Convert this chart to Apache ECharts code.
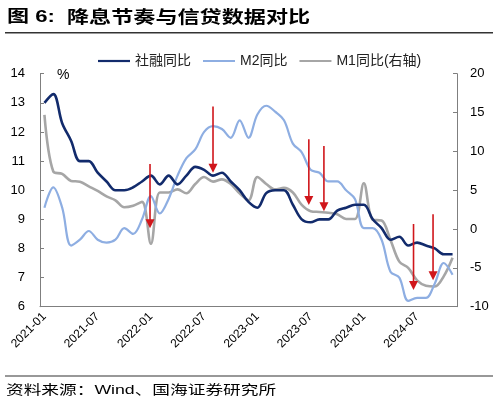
<!DOCTYPE html>
<html>
<head>
<meta charset="utf-8">
<script src="https://cdn.jsdelivr.net/npm/echarts@6/dist/echarts.min.js"></script>
<style>
html,body{margin:0;padding:0;background:#fff;}
#chart{width:498px;height:407px;}
</style>
</head>
<body>
<div id="chart"></div>
<script>
const months = [
  '2021-01','2021-02','2021-03','2021-04','2021-05','2021-06','2021-07','2021-08','2021-09','2021-10','2021-11','2021-12',
  '2022-01','2022-02','2022-03','2022-04','2022-05','2022-06','2022-07','2022-08','2022-09','2022-10','2022-11','2022-12',
  '2023-01','2023-02','2023-03','2023-04','2023-05','2023-06','2023-07','2023-08','2023-09','2023-10','2023-11','2023-12',
  '2024-01','2024-02','2024-03','2024-04','2024-05','2024-06','2024-07','2024-08','2024-09','2024-10','2024-11'
];
// 社融同比 (%)
const tsf = [
  13.0, 13.3, 12.3, 11.7, 11.0, 11.0, 10.6, 10.3, 10.0, 10.0, 10.1, 10.3,
  10.5, 10.2, 10.5, 10.2, 10.5, 10.8, 10.7, 10.5, 10.6, 10.3, 10.0, 9.6,
  9.4, 9.9, 10.0, 10.0, 9.5, 9.0, 8.9, 9.0, 9.0, 9.3, 9.4, 9.5,
  9.5, 9.0, 8.7, 8.3, 8.4, 8.1, 8.2, 8.1, 8.0, 7.8, 7.8
];
// M2同比 (%)
const m2 = [
  9.4, 10.1, 9.4, 8.1, 8.3, 8.6, 8.3, 8.2, 8.3, 8.7, 8.5, 9.0,
  9.8, 9.2, 9.7, 10.5, 11.1, 11.4, 12.0, 12.2, 12.1, 11.8, 12.4, 11.8,
  12.6, 12.9, 12.7, 12.4, 11.6, 11.3, 10.7, 10.6, 10.3, 10.3, 10.0, 9.7,
  8.7, 8.7, 8.3, 7.2, 7.0, 6.2, 6.3, 6.3, 6.8, 7.5, 7.1
];
// M1同比 (%, 右轴)
const m1 = [
  14.7, 7.4, 7.1, 6.2, 6.1, 5.5, 4.9, 4.2, 3.7, 2.8, 3.0, 3.5,
  -1.9, 4.7, 4.7, 5.1, 4.6, 5.8, 6.7, 6.1, 6.4, 5.8, 4.6, 3.7,
  6.7, 5.8, 5.1, 5.3, 4.7, 3.1, 2.3, 2.2, 2.1, 1.9, 1.3, 1.3,
  5.9, 1.2, 1.1, -1.4, -4.2, -5.0, -6.6, -7.3, -7.4, -6.1, -3.7
];
// 降息标记箭头: 位置(月序), 起点与终点(左轴数值)
const arrowPos = [12.4, 19.5, 30.3, 32.0, 42.1, 44.3];
const arrowTop = [10.9, 12.87, 11.75, 11.52, 8.84, 9.17];
const arrowTip = [8.69, 10.6, 9.49, 9.28, 6.57, 6.91];

const seriesNames = ['社融同比', 'M2同比', 'M1同比(右轴)'];
const leftTicks = {min: 6, max: 14, interval: 1};
const rightTicks = {min: -10, max: 20, interval: 5};

const FONT = "'Liberation Sans', 'Noto Sans CJK SC', sans-serif";
const AXIS_COLOR = '#7f7f7f';
const RED = '#d0161b';

const chart = echarts.init(document.getElementById('chart'), null, {renderer: 'canvas'});

const option = {
  animation: false,
  backgroundColor: '#fff',
  textStyle: {fontFamily: FONT},
  grid: {left: 40, right: 41, top: 73.7, bottom: 100.3, containLabel: false},
  legend: {
    data: seriesNames,
    left: 93, top: 49,
    icon: 'rect', itemWidth: 32, itemHeight: 2.2, itemGap: 12,
    textStyle: {fontSize: 14, color: '#222', fontFamily: FONT}
  },
  graphic: [
    {type: 'text', x: 7, y: 17, scaleX: 1.3, style: {text: '图 6:', font: "bold 17px 'Liberation Sans', 'Noto Sans CJK SC'", fill: '#000', textVerticalAlign: 'middle', verticalAlign: 'middle'}},
    {type: 'text', x: 67, y: 17, scaleX: 1.3, style: {text: '降息节奏与信贷数据对比', font: "bold 17px 'Noto Sans CJK SC'", fill: '#000', textVerticalAlign: 'middle', verticalAlign: 'middle'}},
    {type: 'line', shape: {x1: 5, y1: 32.7, x2: 493, y2: 32.7}, style: {stroke: '#333', lineWidth: 1.5}},
    {type: 'text', x: 57, y: 75, style: {text: '%', font: "14px 'Liberation Sans'", fill: '#000', textVerticalAlign: 'middle', verticalAlign: 'middle'}},
    {type: 'line', shape: {x1: 5, y1: 376, x2: 493, y2: 376}, style: {stroke: '#333', lineWidth: 1.2}},
    {type: 'text', x: 6, y: 390, scaleX: 1.36, style: {text: '资料来源：Wind、国海证券研究所', font: "13px 'Liberation Sans', 'Noto Sans CJK SC'", fill: '#000', textVerticalAlign: 'middle', verticalAlign: 'middle'}}
  ],
  xAxis: [
    {
      type: 'category', data: months, boundaryGap: true, position: 'bottom',
      axisLine: {onZero: false, lineStyle: {color: AXIS_COLOR, width: 1}},
      axisTick: {inside: true, interval: 5, length: 4, lineStyle: {color: AXIS_COLOR}},
      axisLabel: {interval: 5, rotate: 45, fontSize: 12, color: '#000', margin: 8, fontFamily: FONT},
      splitLine: {show: false}
    },
    {
      type: 'value', min: 0, max: 47, show: false, position: 'top',
      axisLine: {show: false, onZero: false}, axisTick: {show: false},
      axisLabel: {show: false}, splitLine: {show: false}
    }
  ],
  yAxis: [
    {
      type: 'value', position: 'left', min: leftTicks.min, max: leftTicks.max, interval: leftTicks.interval,
      axisLine: {show: true, onZero: false, lineStyle: {color: AXIS_COLOR, width: 1}},
      axisTick: {show: true, inside: true, length: 4, lineStyle: {color: AXIS_COLOR}},
      axisLabel: {fontSize: 13, color: '#000', margin: 15, fontFamily: FONT},
      splitLine: {show: false}
    },
    {
      type: 'value', position: 'right', min: rightTicks.min, max: rightTicks.max, interval: rightTicks.interval,
      axisLine: {show: true, onZero: false, lineStyle: {color: AXIS_COLOR, width: 1}},
      axisTick: {show: true, inside: true, length: 4, lineStyle: {color: AXIS_COLOR}},
      axisLabel: {fontSize: 13, color: '#000', margin: 13, fontFamily: FONT},
      splitLine: {show: false}
    }
  ],
  series: [
    {
      name: seriesNames[0], type: 'line', data: tsf, xAxisIndex: 0, yAxisIndex: 0,
      smooth: 0.35, showSymbol: false, symbol: 'none', z: 4,
      lineStyle: {color: '#122b6c', width: 2.6}, itemStyle: {color: '#122b6c'}
    },
    {
      name: seriesNames[1], type: 'line', data: m2, xAxisIndex: 0, yAxisIndex: 0,
      smooth: 0.35, showSymbol: false, symbol: 'none', z: 3,
      lineStyle: {color: '#8eaee2', width: 2.2}, itemStyle: {color: '#8eaee2'}
    },
    {
      name: seriesNames[2], type: 'line', data: m1, xAxisIndex: 0, yAxisIndex: 1,
      smooth: 0.35, showSymbol: false, symbol: 'none', z: 2,
      lineStyle: {color: '#a6a6a6', width: 2.6}, itemStyle: {color: '#a6a6a6'}
    },
    {
      name: 'arrows', type: 'custom', xAxisIndex: 1, yAxisIndex: 0, z: 10, silent: true,
      encode: {x: 0, y: [1, 2]},
      data: arrowPos.map((p, i) => [p, arrowTop[i], arrowTip[i]]),
      renderItem: function (params, api) {
        const top = api.coord([api.value(0), api.value(1)]);
        const tip = api.coord([api.value(0), api.value(2)]);
        const hh = 9, hw = 4.5;
        return {
          type: 'group',
          children: [
            {type: 'line', shape: {x1: top[0], y1: top[1], x2: tip[0], y2: tip[1] - hh + 1}, style: {stroke: RED, lineWidth: 1.6}},
            {type: 'polygon', shape: {points: [[tip[0] - hw, tip[1] - hh], [tip[0] + hw, tip[1] - hh], [tip[0], tip[1]]]}, style: {fill: RED}}
          ]
        };
      }
    }
  ]
};
chart.setOption(option);
</script>
</body>
</html>
